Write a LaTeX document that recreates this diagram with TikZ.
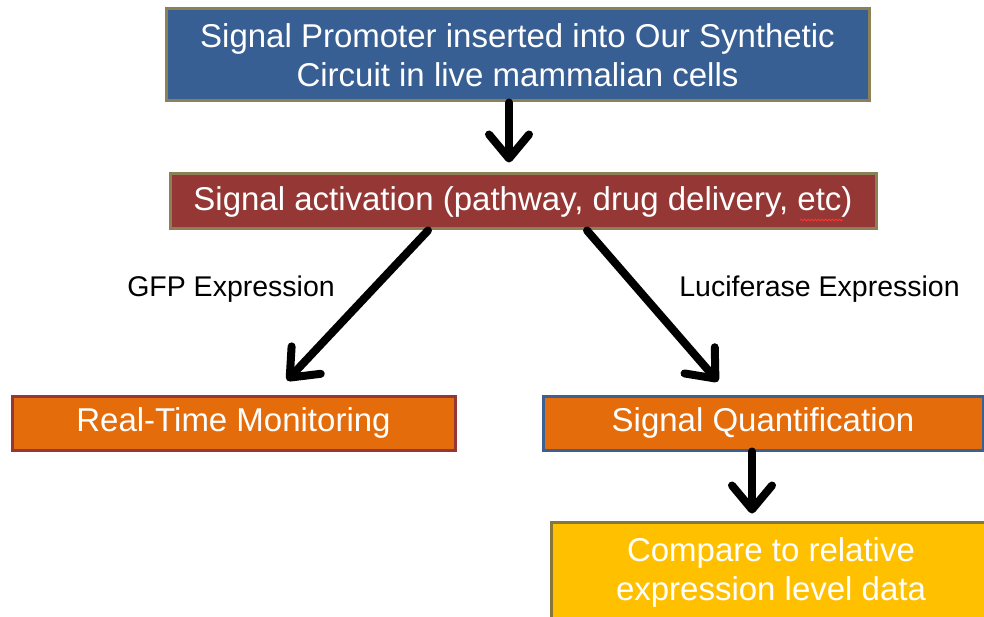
\documentclass[tikz,border=0pt]{standalone}
\usepackage{fontspec}
\setmainfont{Liberation Sans}
\usetikzlibrary{arrows.meta,decorations.pathmorphing,calc}

\definecolor{promoblue}{RGB}{56,95,148}
\definecolor{olivetrim}{RGB}{140,128,86}
\definecolor{signalred}{RGB}{149,55,53}
\definecolor{monorange}{RGB}{228,108,10}
\definecolor{quantblue}{RGB}{60,96,145}
\definecolor{gold}{RGB}{255,192,0}
\definecolor{goldtrim}{RGB}{135,118,60}

\begin{document}
\begin{tikzpicture}[x=1pt,y=-1pt,
  box/.style={draw, line width=3pt, inner sep=0pt, text=white, align=center,
    font=\fontsize{33}{39}\selectfont},
  flow/.style={line width=8pt, line cap=round,
    -{Straight Barb[length=24pt,width=40pt,round]}},
  label/.style={anchor=base, font=\fontsize{28.5}{34}\selectfont, text=black}]

\useasboundingbox (0,0) rectangle (984,617);
\clip (0,0) rectangle (984,617);

% process boxes
\node[box, fill=promoblue, draw=olivetrim, minimum width=703pt, minimum height=92pt]
  (promo) at (517.5,55) {Signal Promoter inserted into Our Synthetic\\Circuit in live mammalian cells};
\node[box, fill=signalred, draw=olivetrim, minimum width=706pt, minimum height=55pt]
  (act) at (523,201.5) {Signal activation (pathway, drug delivery, etc)};
\node[box, fill=monorange, draw=signalred, minimum width=443pt, minimum height=54pt]
  (mon) at (233.5,423) {Real-Time Monitoring};
\node[box, fill=monorange, draw=quantblue, minimum width=440pt, minimum height=54pt]
  (quant) at (763,423) {Signal Quantification};
\node[box, fill=gold, draw=goldtrim, minimum width=440pt, minimum height=100pt]
  (cmp) at (771,572) {Compare to relative\\expression level data};

% spell-check mark under "etc"
\draw[red!80!white, line width=0.8pt, decorate,
  decoration={snake, amplitude=0.9pt, segment length=3.5pt}]
  ([xshift=277pt,yshift=-18.5pt]act.center) -- ([xshift=320pt,yshift=-18.5pt]act.center);

% branch labels
\node[label] (gfp) at (231,297) {GFP Expression};
\node[label] (luc) at (819.5,297) {Luciferase Expression};

% connectors
\draw[flow] ([xshift=-8.5pt]promo.south) -- ([xshift=-14pt,yshift=10pt]act.north);
\draw[flow] ([xshift=-95pt]act.south) -- ([xshift=53.5pt,yshift=14pt]mon.north);
\draw[flow] ([xshift=64pt]act.south) -- ([xshift=-45pt,yshift=13pt]quant.north);
\draw[flow] ([xshift=-11pt]quant.south) -- ([xshift=-19pt,yshift=7pt]cmp.north);
\end{tikzpicture}
\end{document}
